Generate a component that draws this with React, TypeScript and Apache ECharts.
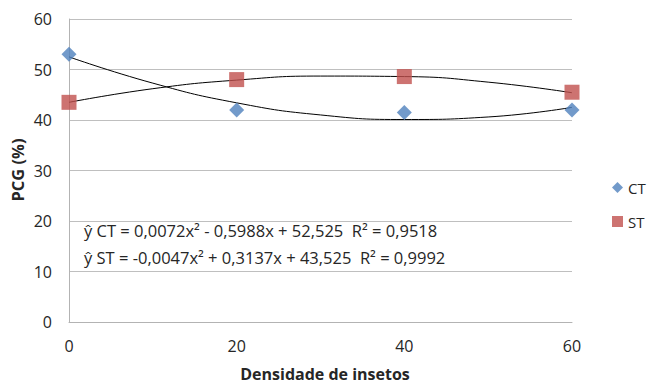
import React, { useEffect, useRef } from "react";
import * as echarts from "echarts";

const xTicks = [0, 20, 40, 60];
const ctPoints = [
  [0, 53],
  [20, 42],
  [40, 41.5],
  [60, 42],
];
const stPoints = [
  [0, 43.5],
  [20, 48],
  [40, 48.6],
  [60, 45.5],
];
// trend curves
const ctTrend = [
  [0, 52.5],
  [10, 47.3],
  [20, 43.4],
  [30, 41.0],
  [40, 40.1],
  [50, 40.6],
  [60, 42.5],
];
const stTrend = [
  [0, 43.5],
  [10, 46.2],
  [20, 47.9],
  [30, 48.7],
  [40, 48.6],
  [50, 47.5],
  [60, 45.4],
];
const eqCT = "ŷ CT = 0,0072x² - 0,5988x + 52,525  R² = 0,9518";
const eqST = "ŷ ST = -0,0047x² + 0,3137x + 43,525  R² = 0,9992";
const xTitle = "Densidade de insetos";
const yTitle = "PCG (%)";

const FONT = "'Open Sans', sans-serif";
const TXT = "#262626";

export default function App() {
  const ref = useRef<HTMLDivElement>(null);
  useEffect(() => {
    if (!ref.current) return;
    const chart = echarts.init(ref.current, undefined, { renderer: "svg" });
    chart.setOption({
      animation: false,
      textStyle: { fontFamily: FONT },
      grid: { left: 69, right: 76, top: 19, bottom: 61 },
      xAxis: {
        type: "value",
        min: xTicks[0],
        max: xTicks[xTicks.length - 1],
        interval: 20,
        axisLine: { show: true, lineStyle: { color: "#B3B3B3" } },
        axisTick: { show: false },
        splitLine: { show: false },
        axisLabel: { margin: 16, fontSize: 16, color: TXT, fontFamily: FONT },
      },
      yAxis: {
        type: "value",
        min: 0,
        max: 60,
        interval: 10,
        axisLine: { show: true, lineStyle: { color: "#B3B3B3" } },
        axisTick: { show: false },
        splitLine: { show: true, lineStyle: { color: "#BFBFBF" } },
        axisLabel: { margin: 17, fontSize: 16, color: TXT, fontFamily: FONT },
      },
      legend: {
        orient: "vertical",
        left: 612,
        top: 180,
        itemGap: 19,
        itemWidth: 11,
        itemHeight: 11,
        padding: 0,
        data: ["CT", "ST"],
        textStyle: { fontSize: 15, color: TXT, fontFamily: FONT },
      },
      series: [
        {
          name: "CT trend",
          type: "line",
          data: ctTrend,
          smooth: true,
          showSymbol: false,
          silent: true,
          lineStyle: { color: "#000", width: 1 },
          z: 1,
        },
        {
          name: "ST trend",
          type: "line",
          data: stTrend,
          smooth: true,
          showSymbol: false,
          silent: true,
          lineStyle: { color: "#000", width: 1 },
          z: 1,
        },
        {
          name: "CT",
          type: "scatter",
          data: ctPoints,
          symbol: "diamond",
          symbolSize: 15,
          itemStyle: { color: "#4F81BD" },
          z: 3,
        },
        {
          name: "ST",
          type: "scatter",
          data: stPoints,
          symbol: "rect",
          symbolSize: 15,
          itemStyle: { color: "#C0504D" },
          z: 3,
        },
      ],
      graphic: [
        {
          type: "text",
          x: 84,
          y: 230,
          style: { text: eqCT, font: `16.5px ${FONT}`, fill: TXT, verticalAlign: "middle" },
        },
        {
          type: "text",
          x: 84,
          y: 257,
          style: { text: eqST, font: `16.5px ${FONT}`, fill: TXT, verticalAlign: "middle" },
        },
        {
          type: "text",
          x: 325,
          y: 373.5,
          style: {
            text: xTitle,
            font: `bold 16px ${FONT}`,
            fill: TXT,
            align: "center",
            verticalAlign: "middle",
          },
        },
        {
          type: "text",
          x: 17,
          y: 170,
          rotation: Math.PI / 2,
          style: {
            text: yTitle,
            font: `bold 16.5px ${FONT}`,
            fill: TXT,
            align: "center",
            verticalAlign: "middle",
          },
        },
      ],
    });
    return () => chart.dispose();
  }, []);
  return (
    <div
      ref={ref}
      style={{ position: "absolute", left: 0, top: 0, width: 648, height: 383 }}
    />
  );
}
